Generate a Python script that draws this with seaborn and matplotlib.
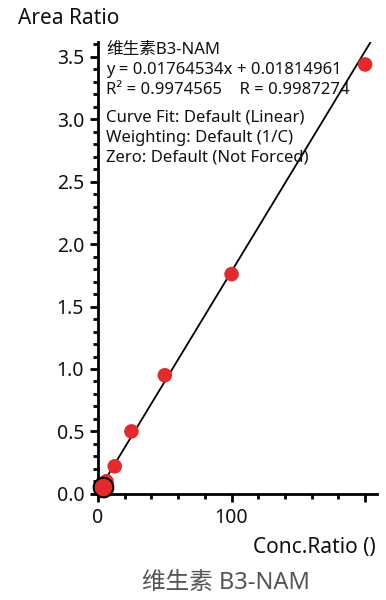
import matplotlib
matplotlib.use("Agg")
import matplotlib.pyplot as plt
import seaborn as sns
import numpy as np
import pandas as pd
from matplotlib.ticker import MultipleLocator

sns.set_style("white")
plt.rcParams['font.family'] = ['Noto Sans', 'Noto Sans CJK SC', 'DejaVu Sans']

conc = [3.5, 6.25, 12.5, 25, 50, 100, 200]
area = [0.056, 0.10, 0.22, 0.50, 0.95, 1.76, 3.44]
slope = 0.01764534
intercept = 0.01814961
line_x = [0, 210]
title = "维生素 B3-NAM"
info_lines = ["维生素B3-NAM", "y = 0.01764534x + 0.01814961",
              "R² = 0.9974565    R = 0.9987274"]
info_lines2 = ["Curve Fit: Default (Linear)", "Weighting: Default (1/C)",
               "Zero: Default (Not Forced)"]

df = pd.DataFrame({"x": conc, "y": area})
ldf = pd.DataFrame({"x": line_x, "y": [slope * v + intercept for v in line_x]})

fig = plt.figure(figsize=(3.86, 6.0), dpi=100)
ax = fig.add_axes([0.254, 0.177, 0.723, 0.753])

sns.lineplot(data=ldf, x="x", y="y", ax=ax, color="black", lw=1.3, zorder=2)
sns.scatterplot(data=df.iloc[1:], x="x", y="y", ax=ax, color="#e8292b",
                s=110, edgecolor="none", zorder=3, clip_on=False)
sns.scatterplot(data=df.iloc[:1], x="x", y="y", ax=ax, color="#e8292b",
                s=200, edgecolor="black", linewidth=1.5, zorder=4, clip_on=False)

ax.set_xlim(0, 209)
ax.set_ylim(0, 3.62)
ax.xaxis.set_major_locator(MultipleLocator(100))
ax.xaxis.set_minor_locator(MultipleLocator(20))
ax.yaxis.set_major_locator(MultipleLocator(0.5))
ax.yaxis.set_minor_locator(MultipleLocator(0.1))
ax.set_xticks([0, 100, 200])
ax.set_xticklabels(["0", "100", ""])
ax.yaxis.set_major_formatter(matplotlib.ticker.FormatStrFormatter("%.1f"))

for s in ["top", "right"]:
    ax.spines[s].set_visible(False)
for s in ["left", "bottom"]:
    ax.spines[s].set_color("black")
    ax.spines[s].set_linewidth(2)

ax.tick_params(which="major", direction="out", length=6, width=2,
               labelsize=14, colors="black", bottom=True, left=True, pad=4)
ax.tick_params(which="minor", direction="out", length=3.5, width=2,
               colors="black", bottom=True, left=True)
for lab in ax.get_xticklabels() + ax.get_yticklabels():
    lab.set_color("#111111")

ax.set_xlabel("")
ax.set_ylabel("")

fig.text(18 / 386, 1 - 18 / 600, "Area Ratio", fontsize=15, ha="left",
         va="center", color="#111111")
fig.text(376 / 386, 1 - 547 / 600, "Conc.Ratio ()", fontsize=15, ha="right",
         va="center", color="#111111")
fig.text(226 / 386, 1 - 583 / 600, title, fontsize=17, ha="center", va="center",
         color="#555555")

ys = [50, 70, 90]
for t, yy in zip(info_lines, ys):
    fig.text(106 / 386, 1 - yy / 600, t, fontsize=12, ha="left",
             va="center", color="#111111")
ys2 = [118, 138, 158]
for t, yy in zip(info_lines2, ys2):
    fig.text(106 / 386, 1 - yy / 600, t, fontsize=12, ha="left",
             va="center", color="#111111")

fig.savefig("out.png", dpi=100)
